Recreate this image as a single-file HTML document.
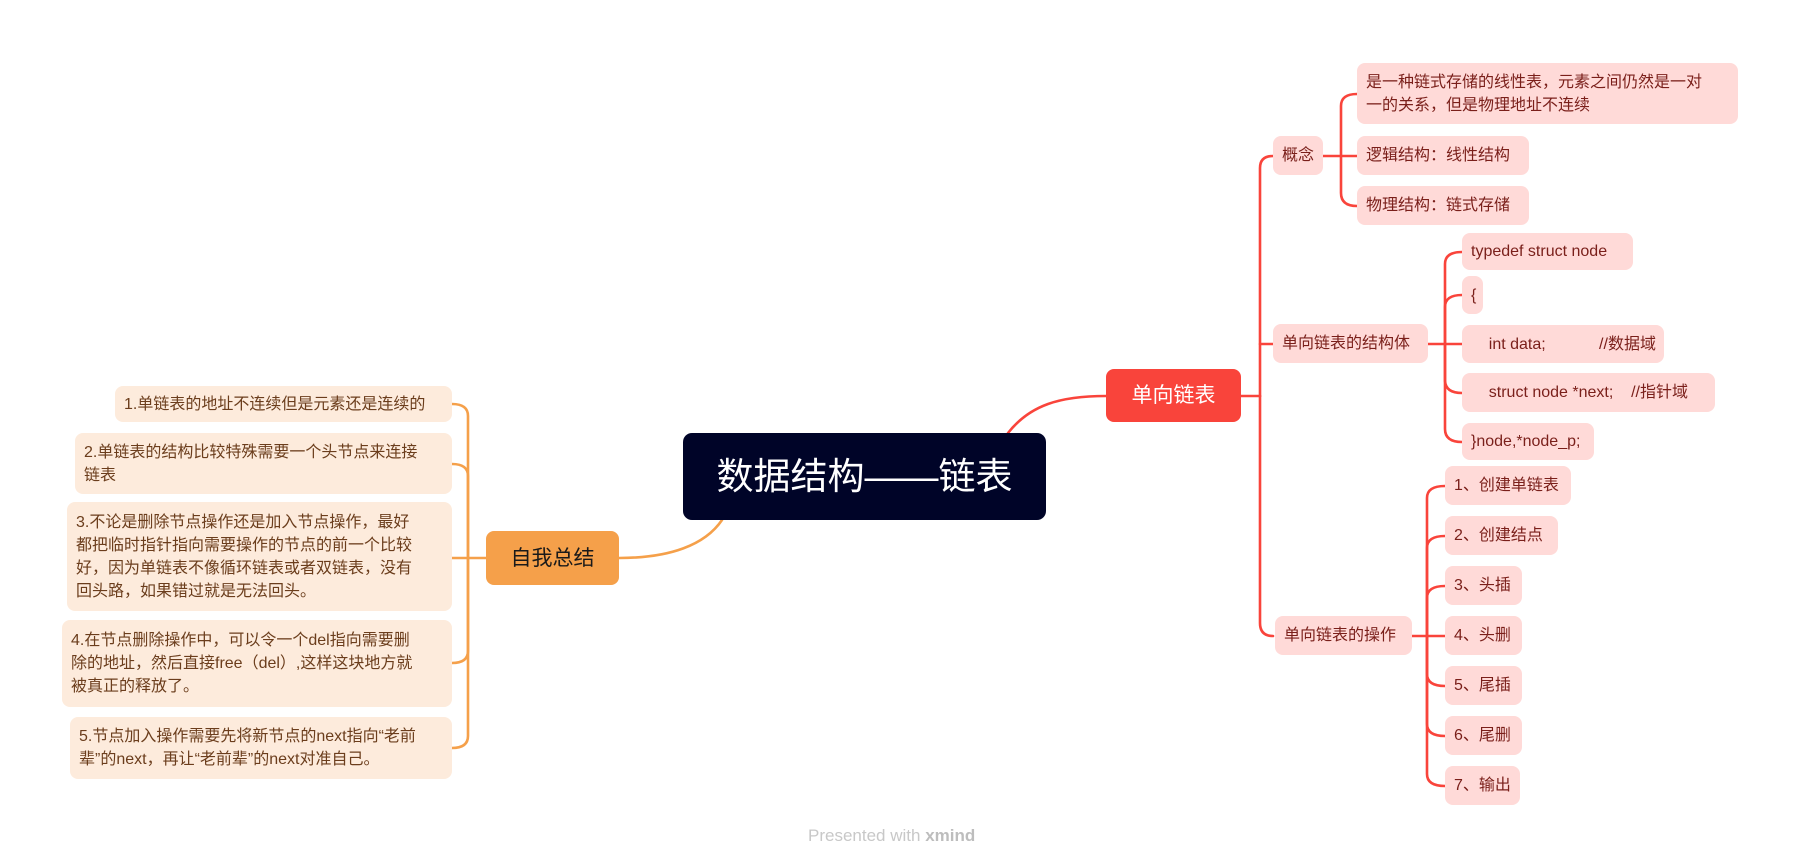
<!DOCTYPE html>
<html><head><meta charset="utf-8"><style>
body{margin:0;width:1802px;height:868px;background:#fff;position:relative;overflow:hidden;font-family:"Liberation Sans","Noto Sans CJK SC",sans-serif}
.b{position:absolute;box-sizing:border-box;display:flex;align-items:center;border-radius:8px;font-size:16px;line-height:23px}
.r{background:#ffdad8;color:#7a1f1a;padding-left:9px}
.l{background:#fdebdc;color:#6b3d1c;padding:0 9px}
svg{position:absolute;left:0;top:0}
</style></head><body>
<svg width="1802" height="868" fill="none" stroke-width="2.6" stroke-linecap="round">
<g stroke="#f9443b">
<path d="M1008 433 C1030 405 1060 396 1106 396"/>
<path d="M1241 396 H1260"/>
<path d="M1260 396 V168 Q1260 156 1273 156"/>
<path d="M1260 344 Q1260 344 1273 344"/>
<path d="M1260 396 V623 Q1260 636 1273 636"/>
<path d="M1323 156 H1341"/>
<path d="M1341 156 V106 Q1341 94 1357 94"/>
<path d="M1341 156 H1357"/>
<path d="M1341 156 V193 Q1341 206 1357 206"/>
<path d="M1428 344 H1445"/>
<path d="M1445 344 V264 Q1445 252 1462 252"/>
<path d="M1445 344 V307 Q1445 295 1462 295"/>
<path d="M1445 344 H1462"/>
<path d="M1445 344 V380 Q1445 393 1462 393"/>
<path d="M1445 344 V429 Q1445 442 1462 442"/>
<path d="M1412 636 H1427"/>
<path d="M1427 636 V498 Q1427 486 1445 486"/>
<path d="M1427 636 V548 Q1427 536 1445 536"/>
<path d="M1427 636 V598 Q1427 586 1445 586"/>
<path d="M1427 636 H1445"/>
<path d="M1427 636 V674 Q1427 686 1445 686"/>
<path d="M1427 636 V724 Q1427 736 1445 736"/>
<path d="M1427 636 V774 Q1427 786 1445 786"/>
</g>
<g stroke="#f5a04a">
<path d="M722 520 C705 545 670 558 619 558"/>
<path d="M486 558 H468"/>
<path d="M468 558 V416 Q468 404 452 404"/>
<path d="M468 558 V476 Q468 464 452 464"/>
<path d="M468 558 H452"/>
<path d="M468 558 V651 Q468 663 452 663"/>
<path d="M468 558 V736 Q468 748 452 748"/>
</g>
</svg>
<div class="b" style="left:683px;top:433px;width:363px;height:87px;background:#000428;color:#fff;font-size:37px;justify-content:center;border-radius:9px">数据结构——链表</div>
<div class="b" style="left:1106px;top:369px;width:135px;height:53px;background:#f9443b;color:#fff;font-size:21px;justify-content:center">单向链表</div>
<div class="b" style="left:486px;top:531px;width:133px;height:54px;background:#f5a04a;color:#1a1a1a;font-size:21px;justify-content:center">自我总结</div>

<div class="b r" style="left:1273px;top:136px;width:50px;height:39px">概念</div>
<div class="b r" style="left:1273px;top:324px;width:155px;height:39px">单向链表的结构体</div>
<div class="b r" style="left:1275px;top:616px;width:137px;height:39px">单向链表的操作</div>

<div class="b r" style="left:1357px;top:63px;width:381px;height:61px">是一种链式存储的线性表，元素之间仍然是一对<br>一的关系，但是物理地址不连续</div>
<div class="b r" style="left:1357px;top:136px;width:172px;height:39px">逻辑结构：线性结构</div>
<div class="b r" style="left:1357px;top:186px;width:172px;height:39px">物理结构：链式存储</div>

<div class="b r" style="left:1462px;top:233px;width:171px;height:37px">typedef struct node</div>
<div class="b r" style="left:1462px;top:276px;width:21px;height:38px">{</div>
<div class="b r" style="left:1462px;top:325px;width:202px;height:38px;white-space:pre">    int data;            //数据域</div>
<div class="b r" style="left:1462px;top:373px;width:253px;height:39px;white-space:pre">    struct node *next;    //指针域</div>
<div class="b r" style="left:1462px;top:423px;width:132px;height:37px">}node,*node_p;</div>

<div class="b r" style="left:1445px;top:466px;width:126px;height:39px">1、创建单链表</div>
<div class="b r" style="left:1445px;top:516px;width:113px;height:39px">2、创建结点</div>
<div class="b r" style="left:1445px;top:566px;width:77px;height:39px">3、头插</div>
<div class="b r" style="left:1445px;top:616px;width:77px;height:39px">4、头删</div>
<div class="b r" style="left:1445px;top:666px;width:77px;height:39px">5、尾插</div>
<div class="b r" style="left:1445px;top:716px;width:77px;height:39px">6、尾删</div>
<div class="b r" style="left:1445px;top:766px;width:75px;height:39px">7、输出</div>

<div class="b l" style="left:115px;top:386px;width:337px;height:36px">1.单链表的地址不连续但是元素还是连续的</div>
<div class="b l" style="left:75px;top:433px;width:377px;height:61px">2.单链表的结构比较特殊需要一个头节点来连接<br>链表</div>
<div class="b l" style="left:67px;top:502px;width:385px;height:109px">3.不论是删除节点操作还是加入节点操作，最好<br>都把临时指针指向需要操作的节点的前一个比较<br>好，因为单链表不像循环链表或者双链表，没有<br>回头路，如果错过就是无法回头。</div>
<div class="b l" style="left:62px;top:620px;width:390px;height:87px">4.在节点删除操作中，可以令一个del指向需要删<br>除的地址，然后直接free（del）,这样这块地方就<br>被真正的释放了。</div>
<div class="b l" style="left:70px;top:717px;width:382px;height:62px">5.节点加入操作需要先将新节点的next指向“老前<br>辈”的next，再让“老前辈”的next对准自己。</div>

<div style="position:absolute;left:808px;top:826px;font-size:17px;color:#c8c8c8">Presented with <b style="color:#bdbdbd">xmind</b></div>
</body></html>
